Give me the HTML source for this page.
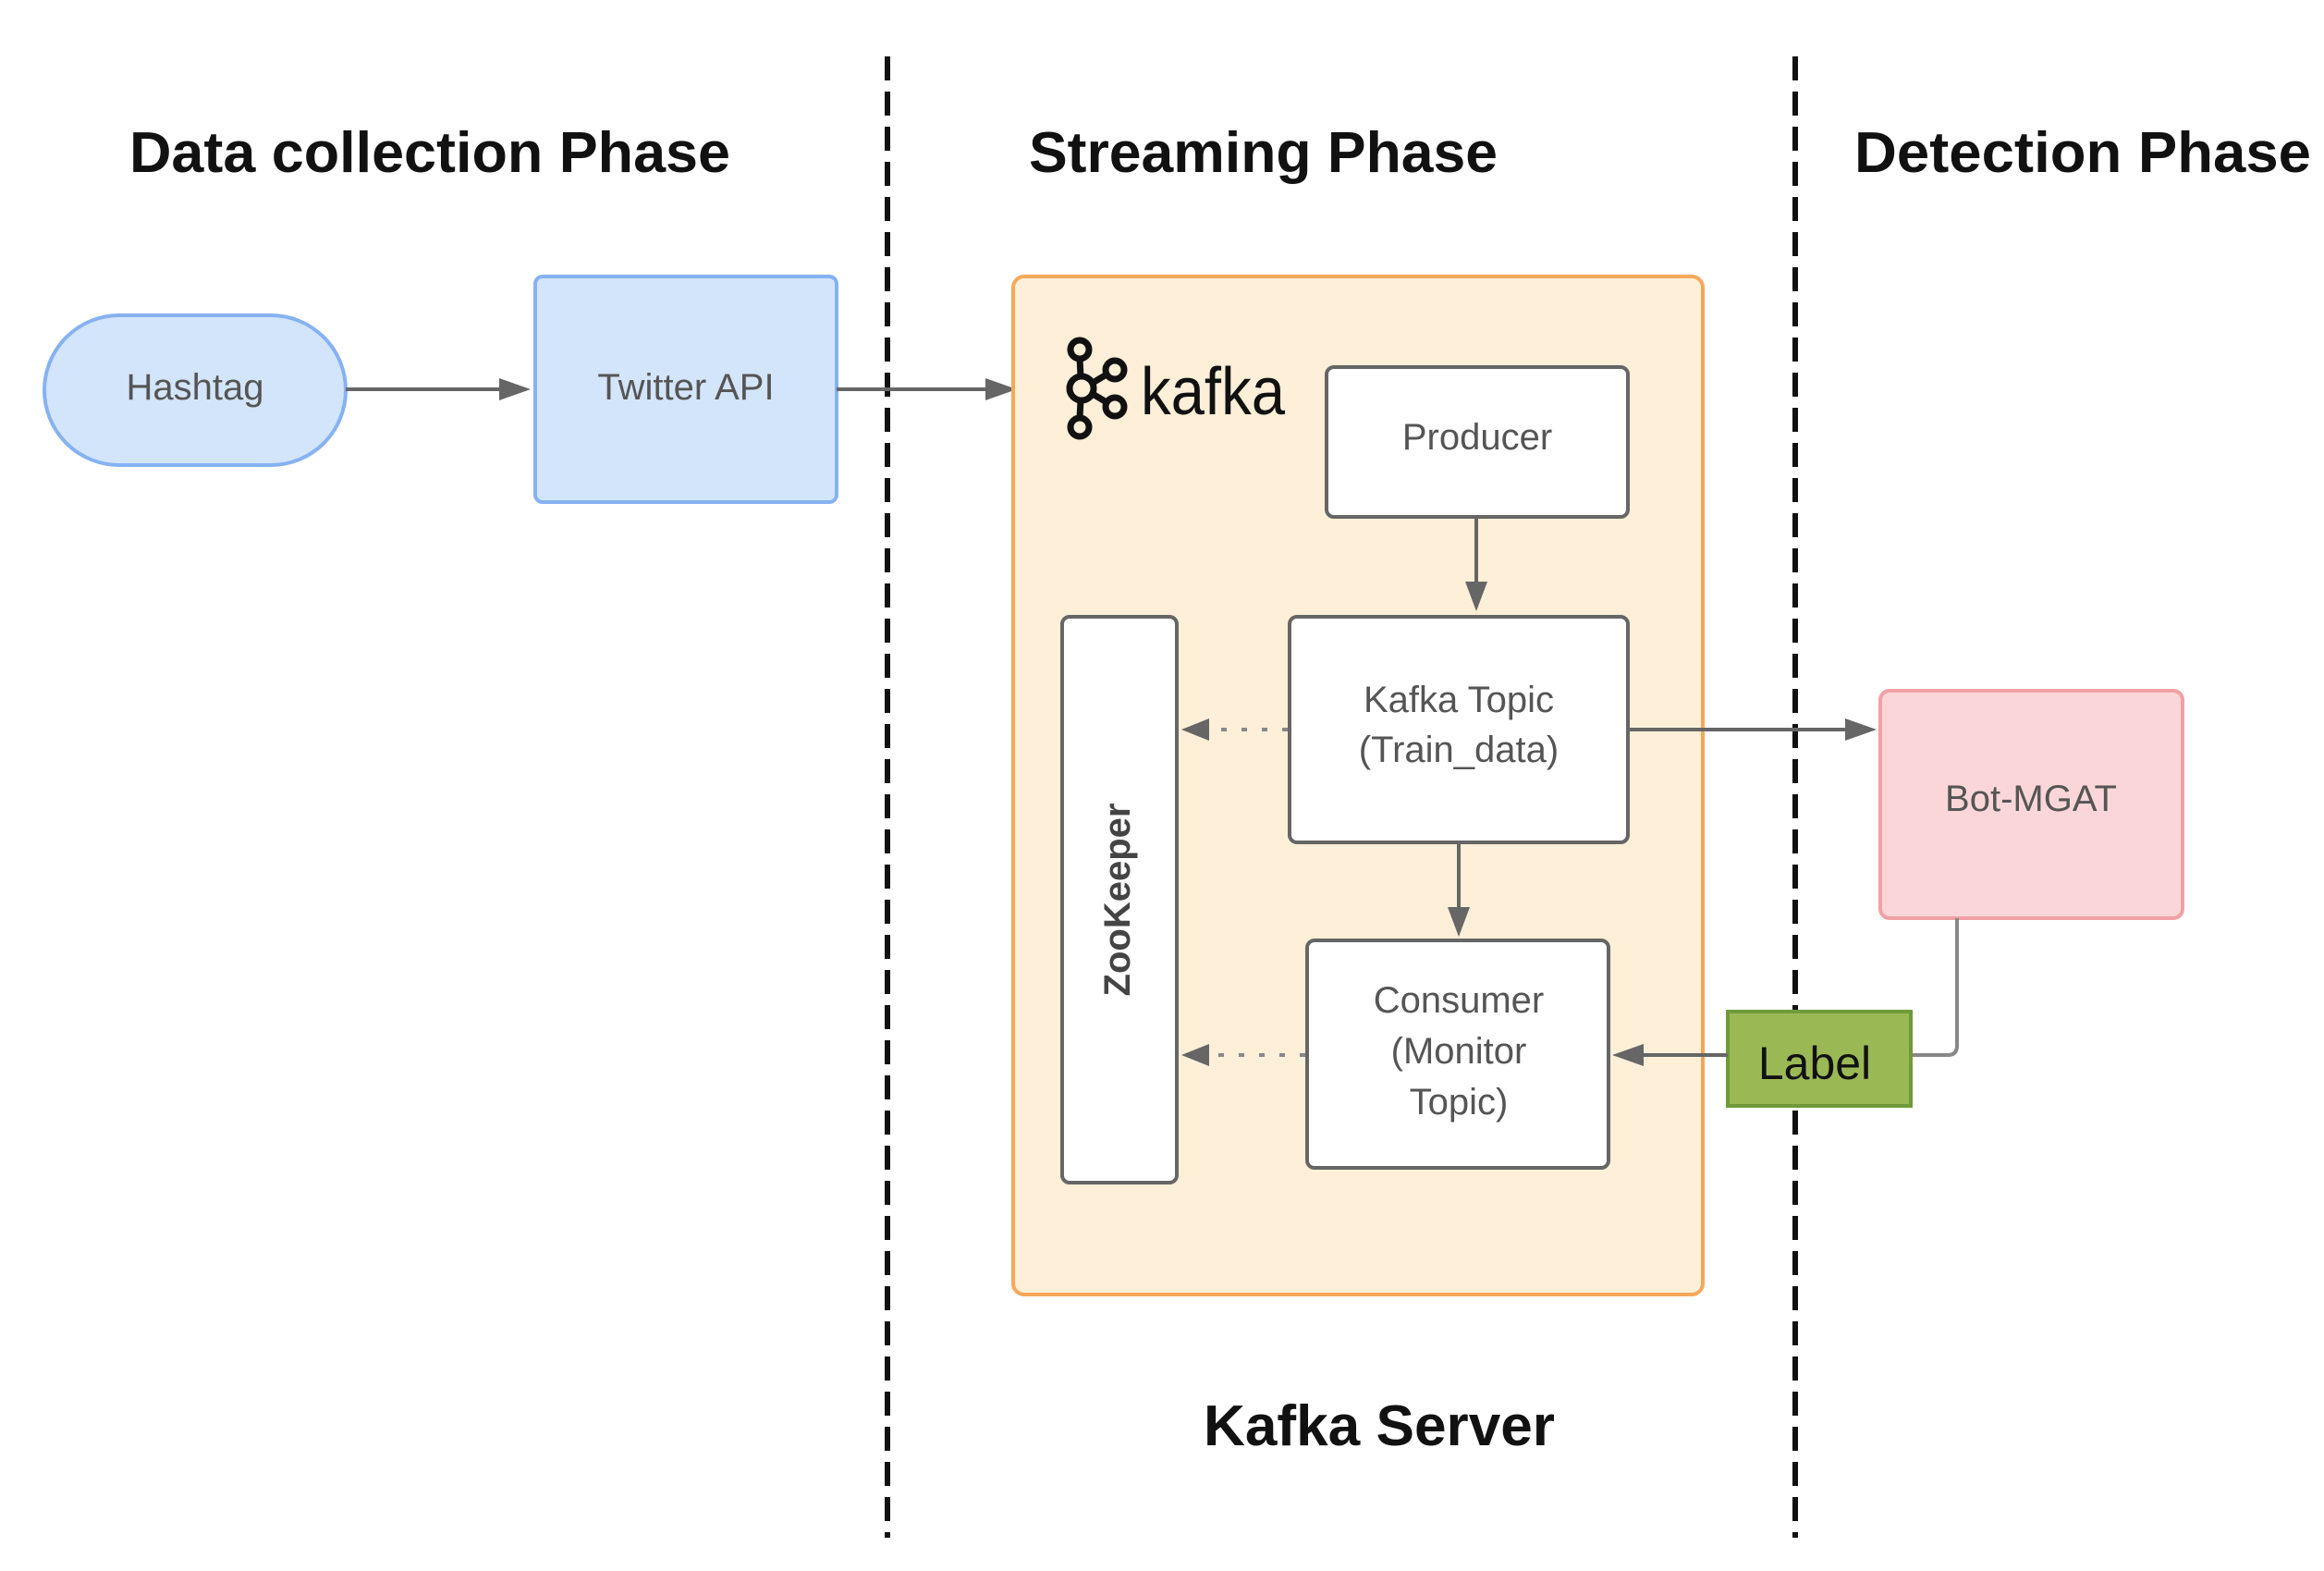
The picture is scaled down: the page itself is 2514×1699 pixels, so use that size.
<!DOCTYPE html>
<html><head><meta charset="utf-8"><style>html,body{margin:0;padding:0;background:#fff}svg{display:block}</style></head>
<body>
<svg width="2514" height="1699" viewBox="0 0 2514 1699" xmlns="http://www.w3.org/2000/svg" font-family="Liberation Sans, sans-serif">
<defs>
<marker id="ah" markerWidth="10" markerHeight="10" refX="9" refY="5" orient="auto" markerUnits="userSpaceOnUse" viewBox="0 0 10 10">
</marker>
</defs>
<!-- dashed dividers -->
<line x1="960" y1="61" x2="960" y2="1663" stroke="#111" stroke-width="6" stroke-dasharray="26,12"/>
<line x1="1942" y1="61" x2="1942" y2="1663" stroke="#111" stroke-width="6" stroke-dasharray="26,12"/>
<!-- headings -->
<g font-weight="bold" font-size="62" fill="#111">
<text x="140" y="186" textLength="650" lengthAdjust="spacingAndGlyphs">Data collection Phase</text>
<text x="1113" y="186" textLength="507" lengthAdjust="spacingAndGlyphs">Streaming Phase</text>
<text x="2006" y="186" textLength="494" lengthAdjust="spacingAndGlyphs">Detection Phase</text>
<text x="1302" y="1563" textLength="380" lengthAdjust="spacingAndGlyphs">Kafka Server</text>
</g>
<!-- Hashtag -->
<rect x="48" y="341" width="326" height="162" rx="81" fill="#d3e5fb" stroke="#86b2f2" stroke-width="4"/>
<text x="211" y="432" font-size="40" fill="#555" text-anchor="middle">Hashtag</text>
<!-- Twitter API -->
<rect x="579" y="299" width="326" height="244" rx="8" fill="#d3e5fb" stroke="#86b2f2" stroke-width="4"/>
<text x="742" y="432" font-size="40" fill="#555" text-anchor="middle">Twitter API</text>
<!-- arrows top -->
<line x1="374" y1="421" x2="548" y2="421" stroke="#666" stroke-width="4"/>
<polygon points="574,421 540,409 540,433" fill="#666"/>
<line x1="905" y1="421" x2="1072" y2="421" stroke="#666" stroke-width="4"/>
<polygon points="1100,421 1066,409 1066,433" fill="#666"/>
<!-- Kafka container -->
<rect x="1096" y="299" width="746" height="1101" rx="12" fill="#fdefd8" stroke="#f5a85a" stroke-width="4"/>
<!-- kafka logo -->
<g fill="none" stroke="#111" stroke-width="7">
<circle cx="1168" cy="378" r="10"/>
<circle cx="1170" cy="420" r="13"/>
<circle cx="1168" cy="462" r="10"/>
<circle cx="1206" cy="400" r="10"/>
<circle cx="1206" cy="440" r="10"/>
<line x1="1168" y1="388" x2="1169" y2="407"/>
<line x1="1168" y1="452" x2="1169" y2="433"/>
<line x1="1182" y1="414" x2="1197" y2="405"/>
<line x1="1182" y1="426" x2="1197" y2="435"/>
</g>
<text x="1234" y="448" font-size="72" fill="#111" textLength="156" lengthAdjust="spacingAndGlyphs">kafka</text>
<!-- Producer -->
<rect x="1435" y="397" width="326" height="162" rx="8" fill="#fff" stroke="#666" stroke-width="4"/>
<text x="1598" y="486" font-size="40" fill="#555" text-anchor="middle">Producer</text>
<!-- Kafka Topic -->
<rect x="1395" y="667" width="366" height="244" rx="8" fill="#fff" stroke="#666" stroke-width="4"/>
<text x="1578" y="770" font-size="40" fill="#555" text-anchor="middle">Kafka Topic</text>
<text x="1578" y="824" font-size="40" fill="#555" text-anchor="middle">(Train_data)</text>
<!-- Consumer -->
<rect x="1414" y="1017" width="326" height="246" rx="8" fill="#fff" stroke="#666" stroke-width="4"/>
<text x="1578" y="1095" font-size="40" fill="#555" text-anchor="middle">Consumer</text>
<text x="1578" y="1150" font-size="40" fill="#555" text-anchor="middle">(Monitor</text>
<text x="1578" y="1205" font-size="40" fill="#555" text-anchor="middle">Topic)</text>
<!-- ZooKeeper -->
<rect x="1149" y="667" width="124" height="612" rx="8" fill="#fff" stroke="#666" stroke-width="4"/>
<text transform="translate(1222,973) rotate(-90)" font-size="40" font-weight="bold" fill="#444" text-anchor="middle">ZooKeeper</text>
<!-- internal arrows -->
<line x1="1597" y1="559" x2="1597" y2="635" stroke="#666" stroke-width="4"/>
<polygon points="1597,661 1585,629 1609,629" fill="#666"/>
<line x1="1578" y1="911" x2="1578" y2="986" stroke="#666" stroke-width="4"/>
<polygon points="1578,1013 1566,981 1590,981" fill="#666"/>
<line x1="1393" y1="789" x2="1308" y2="789" stroke="#888" stroke-width="4" stroke-dasharray="6,16"/>
<polygon points="1278,789 1308,777 1308,801" fill="#666"/>
<line x1="1412" y1="1141" x2="1308" y2="1141" stroke="#888" stroke-width="4" stroke-dasharray="6,16"/>
<polygon points="1278,1141 1308,1129 1308,1153" fill="#666"/>
<!-- Bot-MGAT -->
<rect x="2034" y="747" width="327" height="246" rx="10" fill="#fbd6d8" stroke="#f1a0a5" stroke-width="4"/>
<text x="2197" y="877" font-size="40" fill="#555" text-anchor="middle">Bot-MGAT</text>
<line x1="1761" y1="789" x2="2002" y2="789" stroke="#666" stroke-width="4"/>
<polygon points="2030,789 1996,777 1996,801" fill="#666"/>
<!-- Bot to Label -->
<path d="M2117,993 V1131 Q2117,1141 2107,1141 H2067" fill="none" stroke="#888" stroke-width="4"/>
<!-- Label -->
<rect x="1869" y="1094" width="198" height="102" fill="#9ab955" stroke="#6f9a3a" stroke-width="4"/>
<text x="1963" y="1167" font-size="50" fill="#111" text-anchor="middle">Label</text>
<line x1="1869" y1="1141" x2="1774" y2="1141" stroke="#666" stroke-width="4"/>
<polygon points="1744,1141 1778,1129 1778,1153" fill="#666"/>
</svg>
</body></html>
